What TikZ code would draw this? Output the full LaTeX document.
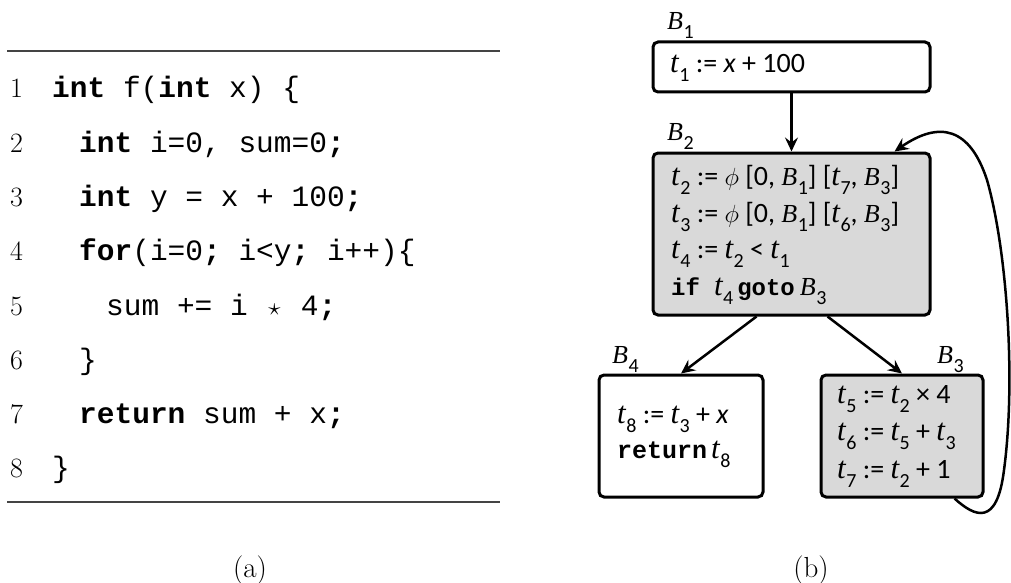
\documentclass[tikz,border=0pt]{standalone}
\usepackage{fontspec}
\usetikzlibrary{arrows.meta,calc}
\newfontfamily\cfont{Carlito}
\newfontfamily\sfont{Liberation Serif}
\newfontfamily\mfont{Liberation Mono}
\definecolor{boxgray}{HTML}{D9D9D9}
\definecolor{rulegray}{HTML}{444444}
\newcommand\sbs[1]{\raisebox{-9pt}{\fontsize{20}{20}\selectfont\cfont #1}}
\newcommand\tv[1]{{\fontsize{31}{31}\selectfont\sfont\itshape t}\kern0.5pt\sbs{#1}}
\newcommand\Bv[1]{{\fontsize{26}{26}\selectfont\sfont\itshape B}\kern0.5pt\sbs{#1}}
\newcommand\kw[2][24]{{\fontsize{#1}{#1}\selectfont\mfont\bfseries #2}}
\newcommand\cstar{\makebox[0.6em]{$\star$}}
\begin{document}
\begin{tikzpicture}[x=1pt,y=-1pt,
  num/.style={anchor=base west, inner sep=0pt, font=\fontsize{28}{28}\selectfont},
  code/.style={anchor=base west, inner sep=0pt, font=\fontsize{29.5}{30}\selectfont\mfont},
  txt/.style={anchor=base west, inner sep=0pt, font=\fontsize{28}{28}\selectfont\cfont},
  lbl/.style={anchor=base west, inner sep=0pt, font=\fontsize{28}{28}\selectfont},
  captext/.style={anchor=base, inner sep=0pt, font=\fontsize{29}{29}\selectfont},
  blk/.style={draw, line width=3pt, rounded corners=5pt, inner sep=0pt, fill=white},
  grayblk/.style={blk, fill=boxgray},
  arr/.style={line width=2.5pt, -{Stealth[length=14pt,width=13pt,inset=5pt]}},
  rule/.style={draw=rulegray, line width=1.5pt}]
\useasboundingbox (0,0) rectangle (1011,583);
% ---------- (a) ----------
\coordinate (rtl) at (7,51); \coordinate (rtr) at (500,51);
\coordinate (rbl) at (7,502); \coordinate (rbr) at (500,502);
\draw[rule] (rtl) -- (rtr);
\draw[rule] (rbl) -- (rbr);
\node[num] (n1) at (10,98) {1};
\node[num] (n2) at (10,152) {2};
\node[num] (n3) at (10,206) {3};
\node[num] (n4) at (10,260) {4};
\node[num] (n5) at (10,315) {5};
\node[num] (n6) at (10,369) {6};
\node[num] (n7) at (10,423) {7};
\node[num] (n8) at (10,477) {8};
\node[code] (c1) at (52,98) {\textbf{int} f(\textbf{int} x) \{};
\node[code] (c2) at (79,152) {\textbf{int} i=0, sum=0\textbf{;}};
\node[code] (c3) at (79,206) {\textbf{int} y = x + 100\textbf{;}};
\node[code] (c4) at (79,260) {\textbf{for}(i=0\textbf{;} i<y\textbf{;} i++)\{};
\node[code] (c5) at (106,315) {sum += i \cstar{} 4\textbf{;}};
\node[code] (c6) at (79,369) {\}};
\node[code] (c7) at (79,423) {\textbf{return} sum + x\textbf{;}};
\node[code] (c8) at (52,477) {\}};
\node[captext] (capa) at (250,577) {(a)};
% ---------- (b) ----------
\node[blk, minimum width=277pt, minimum height=50pt] (B1) at (791.5,67) {};
\node[grayblk, minimum width=277pt, minimum height=162pt] (B2) at (791.5,234) {};
\node[blk, minimum width=164pt, minimum height=122pt] (B4) at (681,436) {};
\node[grayblk, minimum width=162pt, minimum height=122pt] (B3) at (902,436) {};
\node[lbl] (l1) at (667,30) {\Bv{1}};
\node[lbl] (l2) at (667,140) {\Bv{2}};
\node[lbl] (l4) at (612,363) {\Bv{4}};
\node[lbl] (l3) at (937,363) {\Bv{3}};
\node[txt] (t1) at (670,73) {\tv{1} := \textit{x} + 100};
\node[txt] (t2) at (671,185) {\tv{2} := $\phi$ [0, \Bv{1}] [\tv{7}, \Bv{3}]};
\node[txt] (t3) at (671,222) {\tv{3} := $\phi$ [0, \Bv{1}] [\tv{6}, \Bv{3}]};
\node[txt] (t4) at (671,258) {\tv{4} := \tv{2} < \tv{1}};
\node[txt] (t5) at (671,295) {\kw{if}\hspace{14pt}\tv{4}\hspace{4pt}\kw{goto}\hspace{5pt}\Bv{3}};
\node[txt] (t8) at (617,423) {\tv{8} := \tv{3} + \textit{x}};
\node[txt] (t9) at (617,458) {\kw[25]{return}\hspace{4pt}\tv{8}};
\node[txt] (t10) at (837,403) {\tv{5} := \tv{2} × 4};
\node[txt] (t11) at (837,440) {\tv{6} := \tv{5} + \tv{3}};
\node[txt] (t12) at (837,478) {\tv{7} := \tv{2} + 1};
\draw[arr] (B1) -- (B2);
\draw[arr] ($(B2.south)+(-35,0)$) -- (B4.north);
\draw[arr] ($(B2.south)+(36,0)$) -- (B3.north);
\coordinate (k1) at (1004,470);
\coordinate (k2) at (987,180);
\draw[arr] ($(B3.south east)+(-30,0)$) .. controls (975,517) and (997,527) .. (k1)
  .. controls (1016,380) and (1007,250) .. (k2)
  .. controls (970,128) and (940,120) .. ($(B2.north east)+(-37,0)$);
\node[captext] (capb) at (811,577) {(b)};
\end{tikzpicture}
\end{document}
